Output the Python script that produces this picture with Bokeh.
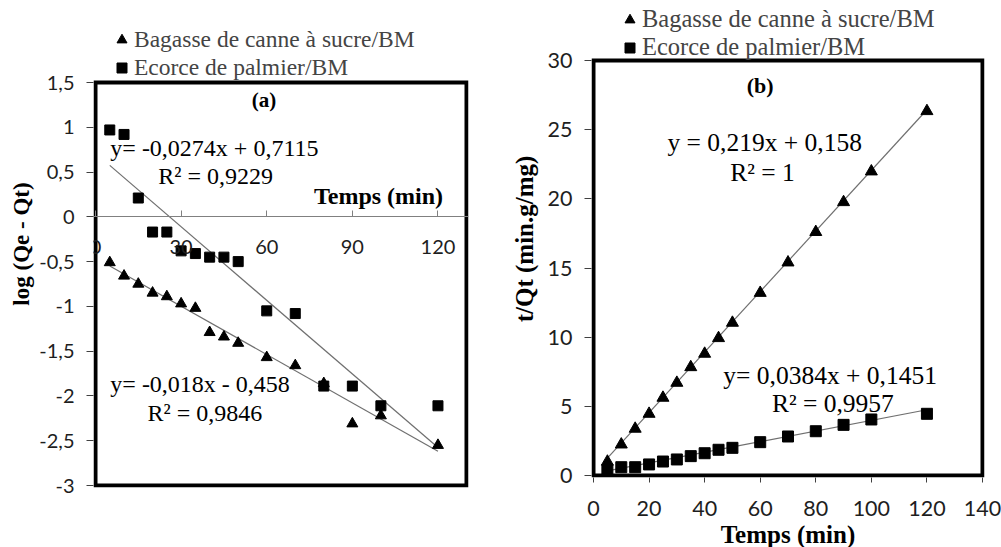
from bokeh.plotting import figure
from bokeh.layouts import row
from bokeh.models import Range1d, FixedTicker, CustomJSTickFormatter, Legend, LegendItem, Label
from bokeh.embed import file_html
from bokeh.resources import INLINE

# ---------------- data ----------------
temps = [5, 10, 15, 20, 25, 30, 35, 40, 45, 50, 60, 70, 80, 90, 100, 120]

# (a) log(Qe - Qt)
log_bagasse = [-0.51, -0.66, -0.75, -0.85, -0.89, -0.97, -1.02, -1.29, -1.34, -1.41,
               -1.57, -1.66, -1.86, -2.31, -2.22, -2.55]
log_ecorce = [0.97, 0.92, 0.21, -0.17, -0.17, -0.38, -0.41, -0.45, -0.45, -0.50,
              -1.05, -1.08, -1.89, -1.89, -2.11, -2.11]

# (b) t/Qt
tq_bagasse = [1.0, 2.24, 3.38, 4.46, 5.62, 6.70, 7.83, 8.80, 9.93, 11.04,
              13.2, 15.4, 17.6, 19.76, 21.98, 26.34]
tq_ecorce = [0.4, 0.6, 0.6, 0.8, 1.01, 1.16, 1.40, 1.61, 1.86, 2.0,
             2.41, 2.82, 3.2, 3.66, 4.05, 4.46]

# trendline coefficients (slope, intercept)
fit_a_bagasse = (-0.018, -0.458)
fit_a_ecorce = (-0.0274, 0.7115)
fit_b_bagasse = (0.219, 0.158)
fit_b_ecorce = (0.0384, 0.1451)
fit_range = [5, 120]

series_names = ["Bagasse de canne à sucre/BM", "Ecorce de palmier/BM"]

# axis limits of the plot boxes
xlim_a, ylim_a = (0, 130), (-3, 1.5)
xlim_b, ylim_b = (0, 140), (0, 30)

ticks_a_x = [0, 30, 60, 90, 120]
ticks_a_y = [-3, -2.5, -2, -1.5, -1, -0.5, 0, 0.5, 1, 1.5]
ticks_b_x = [0, 20, 40, 60, 80, 100, 120, 140]
ticks_b_y = [0, 5, 10, 15, 20, 25, 30]

SERIF = "Liberation Serif"
SANS = "Lato"
TREND = "#6f6f6f"
TICKTXT = "#1e1e1e"
BOX_W = 4


def make_fig(box_px, fig_w, fig_h, xlim, ylim, tick_size, title_size):
    """box_px: (left, right, top, bottom) pixel positions of the box line centres
    inside the figure; the frame reaches the figure top so the legend fits."""
    bl, br, bt, bb = box_px
    half = BOX_W / 2
    fl, fr, fb = bl - half, br + half, bb + half
    sx = (br - bl) / (xlim[1] - xlim[0])
    sy = (bb - bt) / (ylim[1] - ylim[0])
    xr = Range1d(xlim[0] - half / sx, xlim[1] + half / sx)
    yr = Range1d(ylim[0] - half / sy, ylim[1] + bt / sy)
    p = figure(frame_width=int(fr - fl), frame_height=int(fb),
               min_border_left=int(fl), min_border_right=int(fig_w - fr),
               min_border_top=0, min_border_bottom=int(fig_h - fb),
               x_range=xr, y_range=yr,
               output_backend="svg", toolbar_location=None)
    p.grid.visible = False
    p.outline_line_color = None
    p.background_fill_color = "white"
    p.border_fill_color = "white"
    for ax in (p.xaxis[0], p.yaxis[0]):
        ax.minor_tick_in = 0
        ax.minor_tick_out = 0
        ax.major_label_text_font = SANS
        ax.major_label_text_font_size = tick_size
        ax.major_label_text_color = TICKTXT
        ax.axis_label_text_font = SERIF
        ax.axis_label_text_font_size = title_size
        ax.axis_label_text_font_style = "bold"
        ax.axis_label_text_color = "black"
    p.yaxis.axis_line_color = None
    p.yaxis.major_tick_line_color = "#404040"
    return p


def draw_box(p, xlim, ylim):
    p.quad(left=[xlim[0]], right=[xlim[1]], bottom=[ylim[0]], top=[ylim[1]],
           fill_color=None, line_color="black", line_width=BOX_W, line_join="miter")


def fit_line(p, coef):
    a, b = coef
    p.line(fit_range, [a * x + b for x in fit_range], line_color=TREND, line_width=1.2)


def add_label(p, x, y, text, size, bold=False, align="left"):
    p.add_layout(Label(x=x, y=y, text=text, text_font=SERIF, text_font_size=size,
                       text_font_style="bold" if bold else "normal", text_color="black",
                       text_align=align, text_baseline="middle"))


def add_legend(p, tri, sq, loc, spacing, size):
    leg = Legend(items=[LegendItem(label=series_names[0], renderers=[tri]),
                        LegendItem(label=series_names[1], renderers=[sq])],
                 location=loc, label_text_font=SERIF, label_text_font_size=size,
                 glyph_width=25, glyph_height=25, label_standoff=-8, label_height=27,
                 spacing=spacing, padding=0, margin=0,
                 background_fill_alpha=0, border_line_alpha=0)
    p.add_layout(leg)


# ---------------- panel (a) ----------------
pa = make_fig((95, 466, 82, 485), 500, 547, xlim_a, ylim_a, "20px", "23px")
pa.yaxis.ticker = FixedTicker(ticks=ticks_a_y)
pa.yaxis.formatter = CustomJSTickFormatter(code="return String(tick).replace('.', ',');")
pa.yaxis.major_tick_out = 7
pa.yaxis.major_tick_in = 0
pa.yaxis.major_label_standoff = 12
pa.yaxis.axis_label = "log (Qe - Qt)"
pa.yaxis.axis_label_standoff = 2

pa.xaxis.fixed_location = 0
pa.xaxis.ticker = FixedTicker(ticks=ticks_a_x)
pa.xaxis.major_tick_in = 6
pa.xaxis.major_tick_out = 0
pa.xaxis.major_label_standoff = 23
pa.xaxis.axis_line_color = "#808080"
pa.xaxis.major_tick_line_color = "#808080"

fit_line(pa, fit_a_ecorce)
fit_line(pa, fit_a_bagasse)
tri_a = pa.scatter(temps, log_bagasse, marker="triangle", size=11, color="black")
sq_a = pa.scatter(temps, log_ecorce, marker="square", size=10, color="black")
draw_box(pa, xlim_a, ylim_a)

add_label(pa, 59, 1.30, "(a)", "21px", bold=True, align="center")
add_label(pa, 5.2, 0.77, "y= -0,0274x + 0,7115", "24px")
add_label(pa, 22, 0.46, "R² = 0,9229", "24px")
add_label(pa, 5.2, -1.87, "y= -0,018x - 0,458", "24px")
add_label(pa, 18.2, -2.19, "R² = 0,9846", "24px")
add_label(pa, 121.8, 0.235, "Temps (min)", "24px", bold=True, align="right")
add_legend(pa, tri_a, sq_a, (16, 406), 1, "23.5px")

# ---------------- panel (b) ----------------
pb = make_fig((93, 482, 60, 475), 501, 547, xlim_b, ylim_b, "21.5px", "25px")
pb.xaxis.ticker = FixedTicker(ticks=ticks_b_x)
pb.yaxis.ticker = FixedTicker(ticks=ticks_b_y)
pb.xaxis.major_tick_out = 5
pb.xaxis.major_tick_in = 0
pb.yaxis.major_tick_out = 7
pb.yaxis.major_tick_in = 0
pb.xaxis.major_label_standoff = 18
pb.yaxis.major_label_standoff = 12
pb.xaxis.axis_label = "Temps (min)"
pb.xaxis.axis_label_standoff = 2
pb.yaxis.axis_label = "t/Qt (min.g/mg)"
pb.yaxis.axis_label_standoff = 7
pb.xaxis.axis_line_color = None
pb.xaxis.major_tick_line_color = "#404040"

fit_line(pb, fit_b_bagasse)
fit_line(pb, fit_b_ecorce)
tri_b = pb.scatter(temps, tq_bagasse, marker="triangle", size=12, color="black")
sq_b = pb.scatter(temps, tq_ecorce, marker="square", size=11, color="black")
draw_box(pb, xlim_b, ylim_b)

add_label(pb, 60, 28.2, "(b)", "22px", bold=True, align="center")
add_label(pb, 26.6, 24.1, "y = 0,219x + 0,158", "25.5px")
add_label(pb, 49.2, 21.9, "R² = 1", "25.5px")
add_label(pb, 46.7, 7.2, "y= 0,0384x + 0,1451", "25.5px")
add_label(pb, 64.2, 5.2, "R² = 0,9957", "25.5px")
add_legend(pb, tri_b, sq_b, (26, 416), -2, "24.5px")

layout = row(pa, pb)
open("out.html", "w").write(file_html(layout, INLINE))
